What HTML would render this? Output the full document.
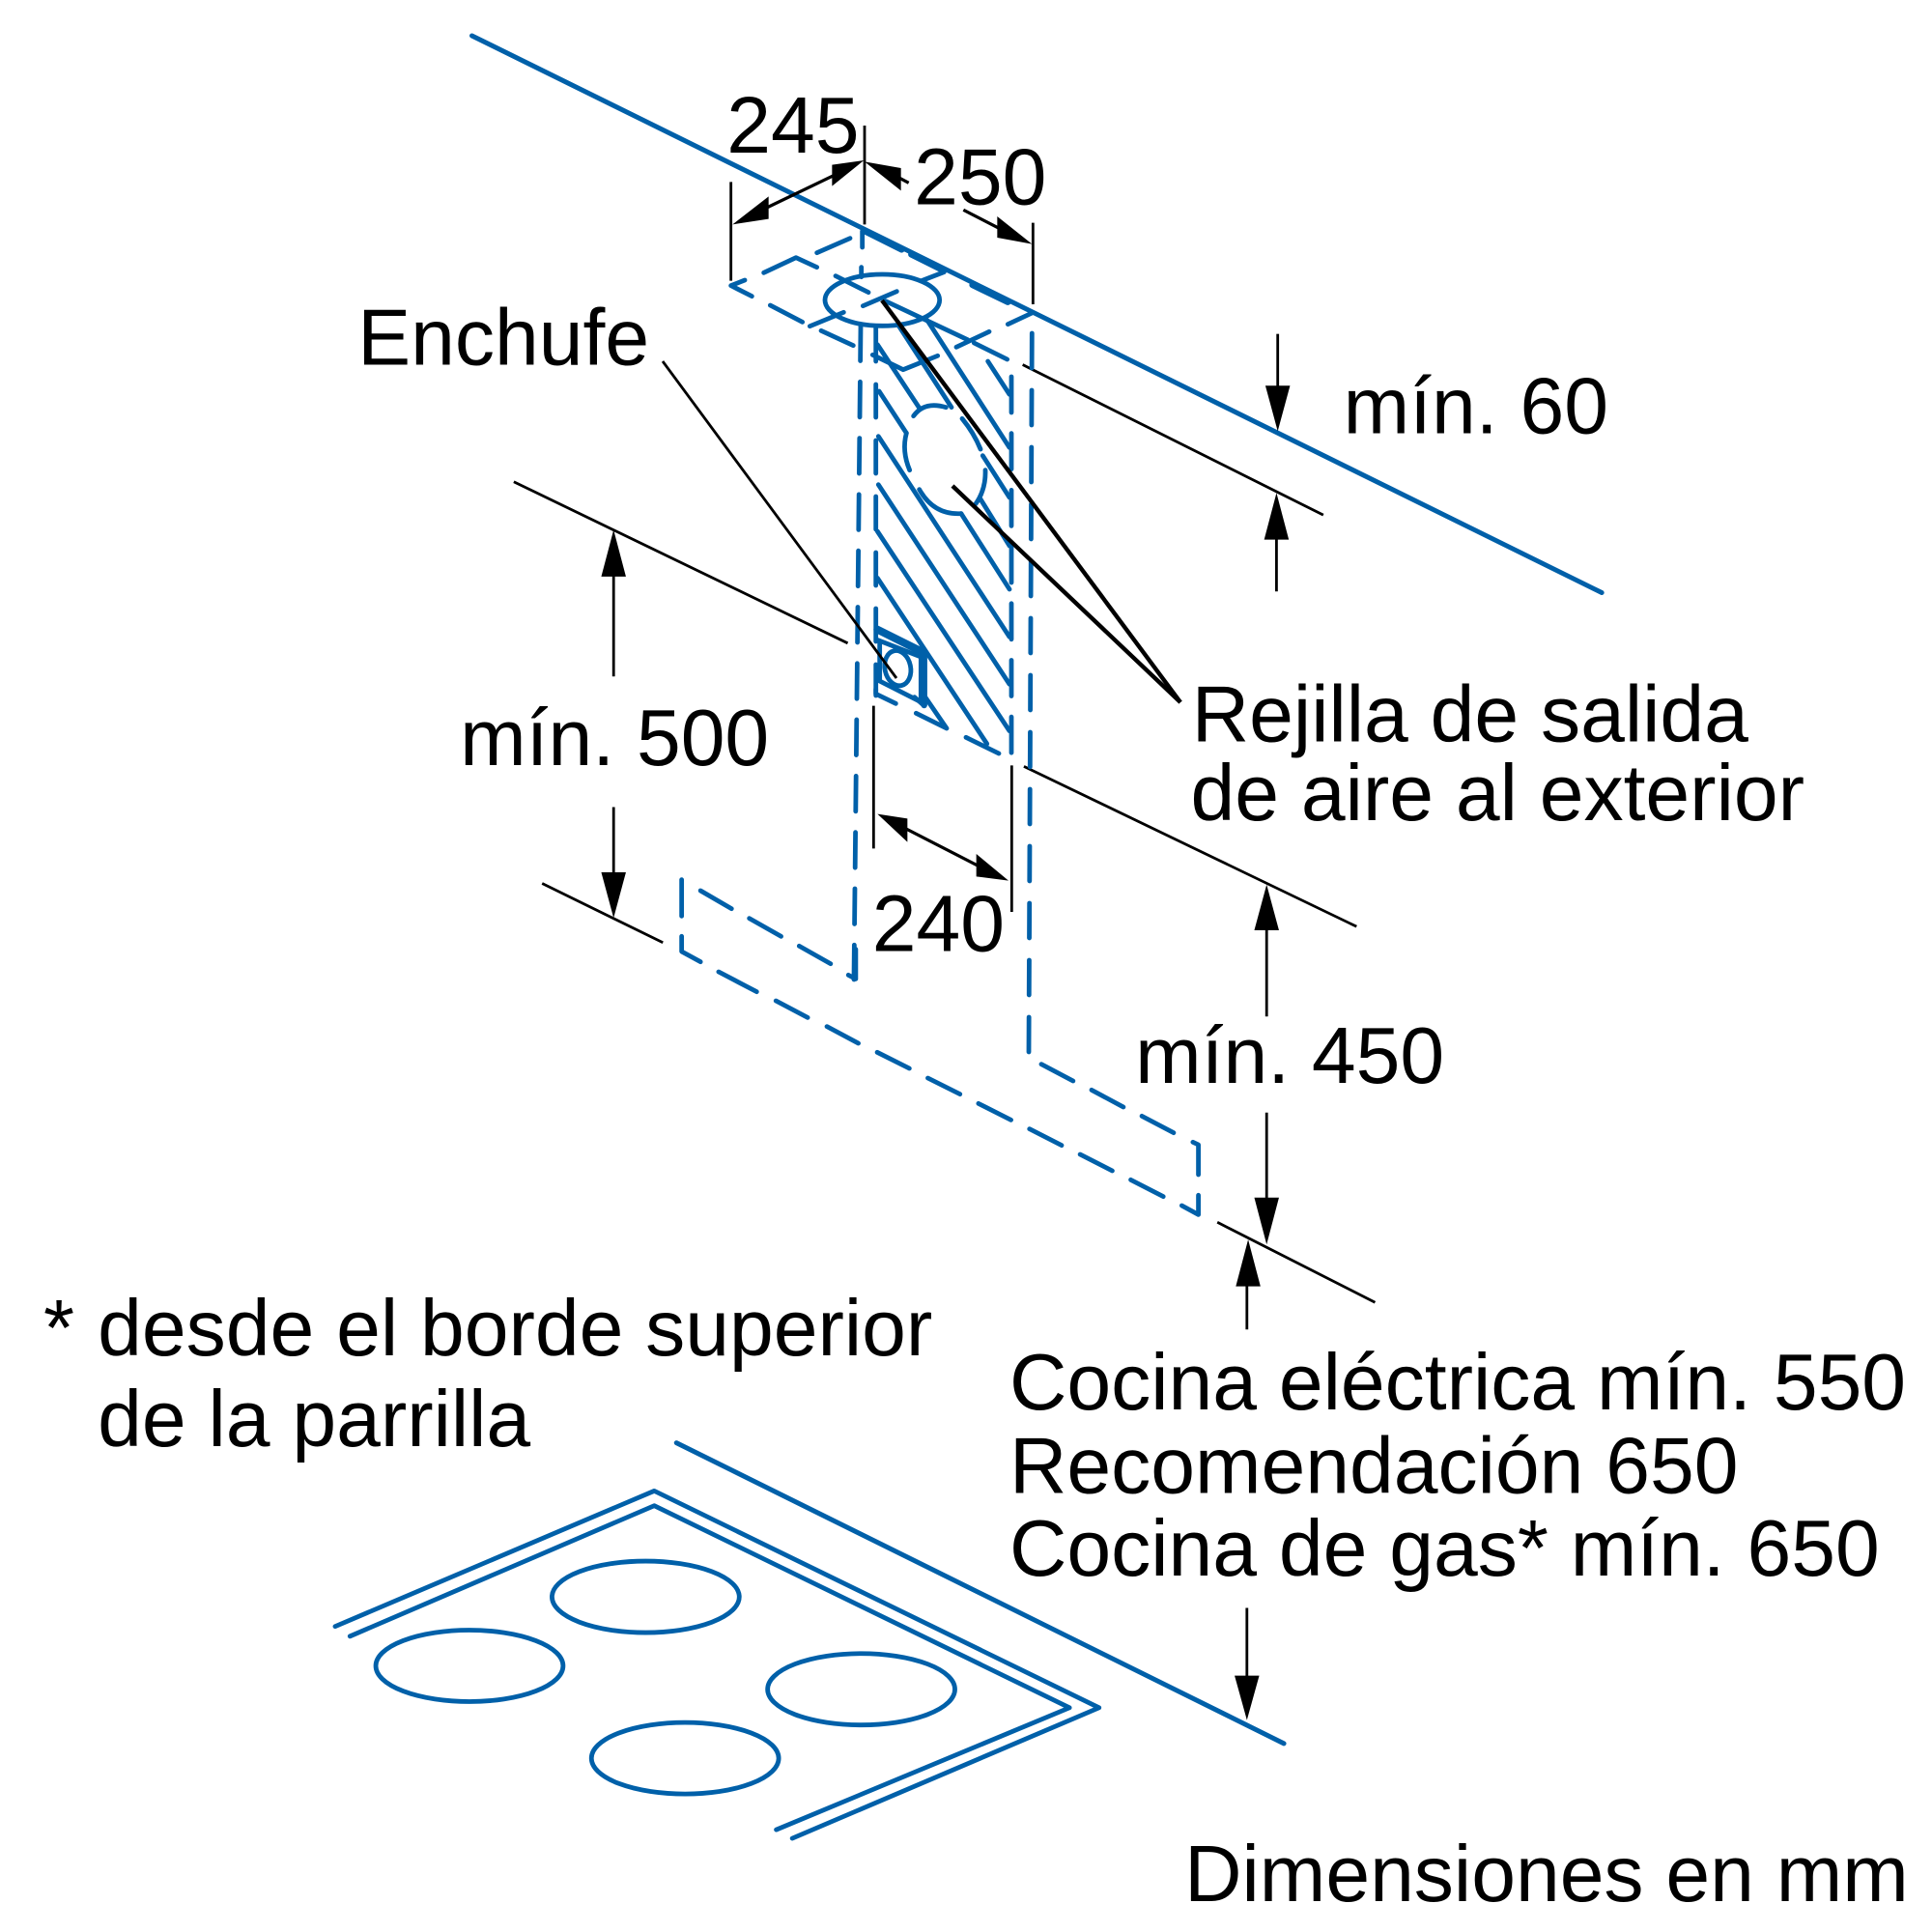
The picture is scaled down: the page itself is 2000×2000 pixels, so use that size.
<!DOCTYPE html>
<html><head><meta charset="utf-8"><style>
html,body{margin:0;padding:0;background:#fff}
svg{display:block}
text{font-family:"Liberation Sans",sans-serif;font-size:64.5px;fill:#000}
line,path,ellipse,polyline{vector-effect:non-scaling-stroke;fill:none;stroke-linecap:round;stroke-linejoin:round}
.b{stroke:#0060a9;stroke-width:4.8}
.t{stroke:#000;stroke-width:2.8;stroke-linecap:butt}
.a{stroke:#000;stroke-width:3.2;stroke-linecap:butt}
.l{stroke:#000;stroke-width:4.4;stroke-linecap:butt}
polygon{fill:#000}
</style></head><body>
<svg width="2000" height="2000" viewBox="0 0 2000 2000" xmlns="http://www.w3.org/2000/svg">
<rect width="2000" height="2000" fill="#fff"/>

<!-- overview coordinates -->
<g transform="scale(1.2755)">
<line class="b" style="stroke-width:5" x1="383" y1="29" x2="1300" y2="481"/>
<line class="b" style="stroke-width:5" x1="549" y1="1171" x2="1042" y2="1415"/>
<polyline class="b" points="272,1320 531,1210 892,1386 643,1492"/>
<polyline class="b" points="284,1328 531,1222 868,1386 630,1485"/>
<ellipse class="b" cx="524" cy="1296" rx="76" ry="29"/>
<ellipse class="b" cx="381" cy="1352" rx="76" ry="29"/>
<ellipse class="b" cx="699" cy="1371" rx="76" ry="29"/>
<ellipse class="b" cx="556" cy="1427" rx="76" ry="29"/>

<line class="t" x1="830" y1="296" x2="1074" y2="418"/>
<line class="t" x1="417" y1="391" x2="688" y2="522"/>
<line class="t" x1="440" y1="717" x2="538" y2="765"/>
<line class="t" x1="831" y1="622" x2="1101" y2="752"/>
<line class="t" x1="988" y1="992" x2="1116" y2="1057"/>

<line class="t" x1="1037" y1="271" x2="1037" y2="320"/>
<polygon points="1037,350 1027,313 1047,313"/>
<line class="t" x1="1036" y1="430" x2="1036" y2="480"/>
<polygon points="1036,400 1026,438 1046,438"/>
<line class="t" x1="498" y1="460" x2="498" y2="549"/>
<polygon points="498,430 488,468 508,468"/>
<line class="t" x1="498" y1="655" x2="498" y2="715"/>
<polygon points="498,745 488,708 508,708"/>
<line class="t" x1="1028" y1="750" x2="1028" y2="825"/>
<polygon points="1028,718 1018,755 1038,755"/>
<line class="t" x1="1028" y1="903" x2="1028" y2="980"/>
<polygon points="1028,1010 1018,972 1038,972"/>
<line class="t" x1="1012" y1="1036" x2="1012" y2="1079"/>
<polygon points="1013,1006 1003,1044 1023,1044"/>
<line class="t" x1="1012" y1="1305" x2="1012" y2="1366"/>
<polygon points="1012,1396 1002,1360 1022,1360"/>

<g transform="translate(0.3,0.8)">
<text x="589.5" y="123">245</text>
<text x="741.5" y="165">250</text>
<text x="290" y="295">Enchufe</text>
<text x="1090" y="351">mín. 60</text>
<text x="373" y="620">mín. 500</text>
<text x="967" y="601">Rejilla de salida</text>
<text x="966" y="665">de aire al exterior</text>
<text x="707.5" y="771">240</text>
<text x="921" y="878">mín. 450</text>
<text x="35" y="1099">*</text>
<text x="79" y="1099">desde el borde superior</text>
<text x="79" y="1173">de la parrilla</text>
<text x="819" y="1143">Cocina eléctrica mín. 550</text>
<text x="819" y="1211">Recomendación 650</text>
<text x="819" y="1278">Cocina de gas* mín. 650</text>
<text x="961" y="1542">Dimensiones en mm</text>
</g>
</g>

<!-- long dashed verticals, native coords -->
<line class="b" x1="891" y1="337" x2="884" y2="1014" stroke-dasharray="36.5 21.8"/>
<line class="b" x1="906.7" y1="340" x2="906.7" y2="720" stroke-dasharray="34 24"/>
<line class="b" x1="1047" y1="390" x2="1047" y2="780" stroke-dasharray="37 21.7"/>
<line class="b" x1="1068.3" y1="345" x2="1065" y2="1090" stroke-dasharray="36 23"/>

<!-- top detail, zoom 1 coordinates -->
<g transform="translate(700,80) scale(.33333)">
<line class="t" x1="170" y1="325" x2="170" y2="632"/>
<line class="t" x1="585" y1="150" x2="585" y2="457"/>
<line class="t" x1="1108" y1="452" x2="1108" y2="705"/>
<line class="a" x1="250" y1="420" x2="520" y2="290"/>
<polygon points="175,457 287,370 287,440"/>
<polygon points="583,258 484,272 484,338"/>
<line class="a" x1="660" y1="295" x2="722" y2="328"/>
<polygon points="585,262 698,282 698,352"/>
<line class="a" x1="892" y1="412" x2="1020" y2="478"/>
<polygon points="1105,518 997,432 997,498"/>

<polyline class="b" points="235,680 170,647 213,630"/>
<line class="b" x1="292" y1="708" x2="392" y2="760"/>
<line class="b" x1="450" y1="787" x2="550" y2="833"/>
<polyline class="b" points="272,607 372,560 437,590"/>
<line class="b" x1="437" y1="545" x2="540" y2="500"/>
<line class="b" x1="578" y1="478" x2="578" y2="528"/>
<line class="b" x1="575" y1="590" x2="575" y2="620"/>
<line class="b" x1="495" y1="617" x2="597" y2="668"/>
<line class="b" x1="580" y1="710" x2="685" y2="665"/>
<ellipse class="b" cx="640" cy="692" rx="178" ry="80"/>
<line class="b" x1="415" y1="773" x2="520" y2="730"/>
<line class="b" x1="762" y1="632" x2="832" y2="605"/>
<line class="b" style="stroke-width:6.5" x1="590" y1="480" x2="700" y2="535"/>
<line class="b" style="stroke-width:6.5" x1="730" y1="550" x2="830" y2="600"/>
<line class="b" style="stroke-width:6.5" x1="920" y1="645" x2="1030" y2="698"/>
<polyline class="b" points="1030,767 1105,732"/>
<line class="b" x1="650" y1="695" x2="905" y2="815"/>
<line class="b" x1="870" y1="838" x2="972" y2="790"/>
<line class="b" x1="925" y1="825" x2="1028" y2="876"/>

<line class="b" x1="625" y1="830" x2="757" y2="1030"/>
<polyline class="b" points="610,862 705,908 812,865"/>
<line class="b" x1="690" y1="770" x2="855" y2="1025"/>
<line class="b" x1="780" y1="755" x2="1035" y2="1150"/>
<line class="b" x1="968" y1="882" x2="1035" y2="985"/>
<path class="b" d="M737,1052 Q770,1005 838,1025"/>
<path class="b" d="M888,1060 Q925,1105 945,1155"/>
<path class="b" d="M715,1105 Q700,1160 725,1220"/>
<line class="b" x1="630" y1="975" x2="715" y2="1105"/>
<line class="b" x1="952" y1="1175" x2="1035" y2="1305"/>
<path class="b" d="M960,1220 Q962,1280 930,1325"/>
<path class="b" d="M755,1280 Q800,1360 885,1355"/>
</g>

<!-- hatch, native coords -->
<line class="b" x1="909.3" y1="451.7" x2="1045" y2="659.3"/>
<line class="b" x1="909.3" y1="501.7" x2="1045" y2="708.3"/>
<line class="b" x1="908.3" y1="550" x2="1045" y2="756.7"/>
<line class="b" x1="908.3" y1="598.3" x2="1021.7" y2="770"/>
<line class="b" x1="995" y1="531.7" x2="1045" y2="610"/>
<line class="b" x1="1015" y1="516.7" x2="1045" y2="565"/>

<!-- socket, zoom 2 coordinates -->
<g transform="translate(780,500) scale(.33333)">
<line class="b" x1="385" y1="455" x2="525" y2="525" style="stroke-width:8"/>
<polygon points="392,490 520,540 520,680 392,615" style="fill:none;stroke:#0060a9;stroke-width:4.8;vector-effect:non-scaling-stroke"/>
<line class="b" x1="530" y1="530" x2="530" y2="690" style="stroke-width:6.5"/>
<line class="b" x1="500" y1="665" x2="528" y2="690"/>
<ellipse class="b" cx="448" cy="575" rx="40" ry="55" transform="rotate(-12 448 575)"/>
<polyline class="b" points="380,640 380,655 442,685"/>
<polyline class="b" points="505,715 600,762 530,660"/>
<line class="b" x1="660" y1="790" x2="762" y2="840"/>
</g>

<!-- leaders -->
<line class="t" x1="686" y1="374" x2="928" y2="702"/>
<line class="l" x1="1222" y1="727" x2="913" y2="311"/>
<line class="l" x1="1222" y1="727" x2="986" y2="503"/>

<!-- 240 dimension, zoom 2 coords -->
<g transform="translate(780,500) scale(.33333)">
<line class="t" x1="373" y1="692" x2="373" y2="1135"/>
<line class="t" x1="802" y1="877" x2="802" y2="1332"/>
<line class="a" x1="470" y1="1072" x2="700" y2="1190"/>
<polygon points="385,1028 478,1042 478,1115"/>
<polygon points="792,1235 692,1152 692,1222"/>
</g>

<!-- lower dashed, zoom 4 coords -->
<g transform="translate(680,880) scale(.38265,.33333)">
<line class="b" x1="67" y1="92" x2="67" y2="205"/>
<polyline class="b" points="67,268 67,315 118,347"/>
<line class="b" x1="167" y1="378" x2="270" y2="440"/>
<line class="b" x1="322" y1="468" x2="408" y2="520"/>
<line class="b" x1="460" y1="548" x2="545" y2="600"/>
<line class="b" x1="596" y1="628" x2="683" y2="678"/>
<line class="b" x1="733" y1="708" x2="820" y2="758"/>
<line class="b" x1="870" y1="787" x2="958" y2="838"/>
<line class="b" x1="1008" y1="866" x2="1095" y2="917"/>
<line class="b" x1="1145" y1="945" x2="1232" y2="996"/>
<line class="b" x1="1282" y1="1024" x2="1370" y2="1076"/>
<polyline class="b" points="1420,1104 1465,1132 1465,1072"/>
<line class="b" x1="118" y1="126" x2="202" y2="182"/>
<line class="b" x1="250" y1="212" x2="336" y2="268"/>
<line class="b" x1="385" y1="298" x2="470" y2="353"/>
<polyline class="b" points="518,388 538,400 538,308"/>
<line class="b" x1="1040" y1="665" x2="1126" y2="717"/>
<line class="b" x1="1176" y1="745" x2="1262" y2="798"/>
<line class="b" x1="1312" y1="826" x2="1398" y2="878"/>
<polyline class="b" points="1450,907 1465,915 1465,1008"/>
</g>
</svg>
</body></html>
